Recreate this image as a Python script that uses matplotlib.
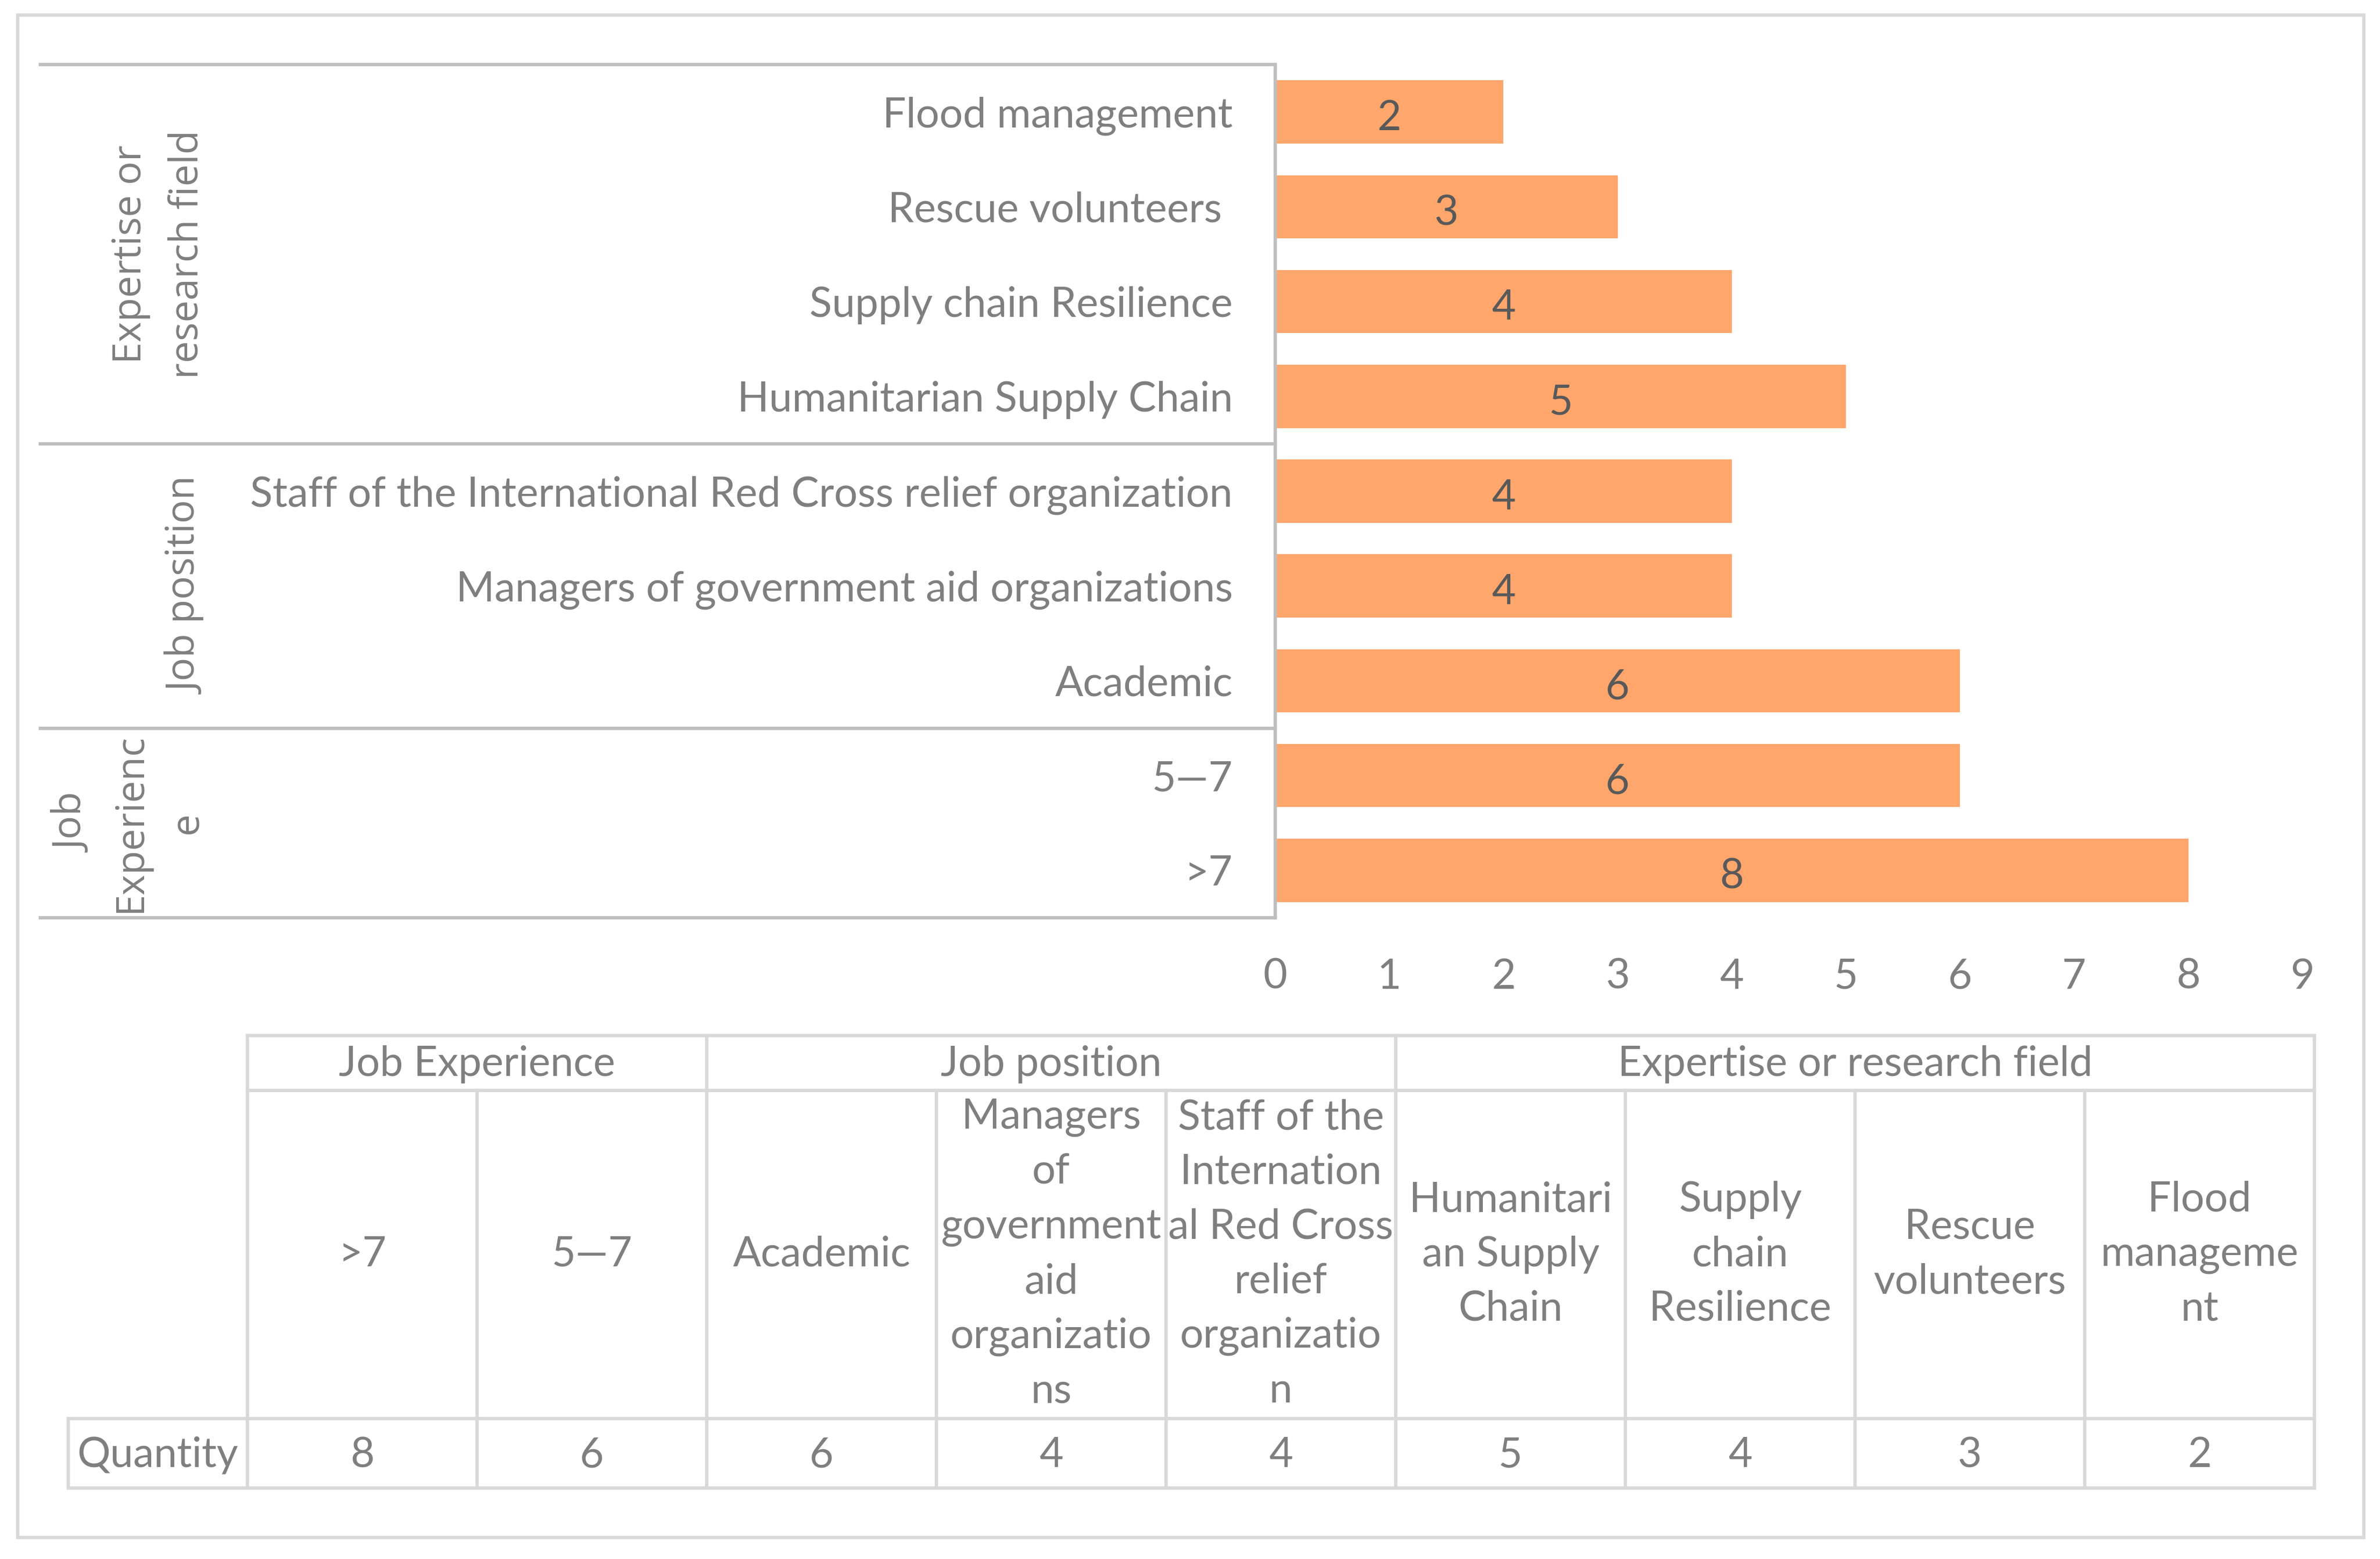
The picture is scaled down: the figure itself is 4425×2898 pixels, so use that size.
import numpy as np
import matplotlib
matplotlib.use("Agg")
import matplotlib.pyplot as plt
from matplotlib import transforms
from matplotlib.patches import Rectangle

plt.rcParams['font.family'] = ['Lato', 'DejaVu Sans']

# data, bottom bar first (same order as the table columns)
categories = [">7", "5—7", "Academic",
              "Managers of government aid organizations",
              "Staff of the International Red Cross relief organization",
              "Humanitarian Supply Chain", "Supply chain Resilience",
              "Rescue volunteers ", "Flood management"]
quantity = [8, 6, 6, 4, 4, 5, 4, 3, 2]
groups = ["Job Experience", "Job position", "Expertise or research field"]
group_sizes = [2, 3, 4]
group_labels_axis = ["Job\nExperienc\ne", "Job position", "Expertise or\nresearch field"]
table_labels = [">7", "5—7", "Academic",
                "Managers\nof\ngovernment\naid\norganizatio\nns",
                "Staff of the\nInternation\nal Red Cross\nrelief\norganizatio\nn",
                "Humanitari\nan Supply\nChain",
                "Supply\nchain\nResilience",
                "Rescue\nvolunteers",
                "Flood\nmanageme\nnt"]
row_name = "Quantity"
xticks = list(range(10))

BAR = '#FFA66C'
GREY = '#7F7F7F'
DARK = '#595959'
AXLINE = '#BFBFBF'
TABLINE = '#D9D9D9'
FS = 18.5

W, H = 4425, 2898
fig = plt.figure(figsize=(W / 300, H / 300), dpi=300)

def fx(px):
    return px / W

def fy(py):
    return 1 - py / H

# outer chart border
fig.add_artist(Rectangle((fx(33), fy(2858)), fx(4395) - fx(33), fy(28) - fy(2858),
                         transform=fig.transFigure, fill=False,
                         edgecolor=TABLINE, lw=1.5))

# bar chart
ax = fig.add_axes([fx(2371), fy(1706), fx(4281) - fx(2371), fy(120) - fy(1706)])
ypos = np.arange(len(categories))
ax.barh(ypos, quantity, height=0.667, color=BAR)
for y, v in zip(ypos, quantity):
    ax.text(v / 2, y - 0.03, str(v), ha='center', va='center_baseline',
            color=DARK, fontsize=FS)

ax.set_xticks(xticks)
ax.set_yticks(ypos, categories)
ax.tick_params(length=0, labelsize=FS, labelcolor=GREY)
ax.tick_params(axis='y', pad=19)
ax.tick_params(axis='x', pad=18)
for s in ['top', 'right', 'bottom']:
    ax.spines[s].set_visible(False)
ax.spines['left'].set_color(AXLINE)
ax.spines['left'].set_linewidth(1.5)

# group brackets and rotated group names
blend = transforms.blended_transform_factory(fig.transFigure, ax.transData)
edges = np.concatenate([[0], np.cumsum(group_sizes)]) - 0.5
for e in edges:
    ax.plot([fx(75), fx(2371)], [e, e], transform=blend, color=AXLINE,
            lw=1.5, clip_on=False, solid_capstyle='projecting')
centers = (edges[:-1] + edges[1:]) / 2
for c, lab in zip(centers, group_labels_axis):
    ax.text(fx(385), c, lab, transform=blend, rotation=90, rotation_mode='anchor',
            ha='center', va='bottom', multialignment='center',
            family=['Open Sans', 'DejaVu Sans'], fontsize=17.5,
            linespacing=1.56, color=GREY)

ax.set_xlim(0, 9)
ax.set_ylim(-0.5, len(categories) - 0.5)

# data table under the chart
n = len(categories)
qw = 0.78
q_top, c_top, h_top = 129, 739, 841
tax = fig.add_axes([fx(127), fy(2766), fx(4303) - fx(127), fy(1925) - fy(2766)])
tax.set_xlim(-qw, n)
tax.set_ylim(0, h_top)
tax.axis('off')

def tline(xs, ys):
    tax.plot(xs, ys, color=TABLINE, lw=1.5, clip_on=False,
             solid_capstyle='projecting')

tline([0, n], [h_top, h_top])
tline([0, n], [c_top, c_top])
tline([-qw, n], [q_top, q_top])
tline([-qw, n], [0, 0])
tline([-qw, -qw], [0, q_top])
gedges = np.concatenate([[0], np.cumsum(group_sizes)])
for i in range(n + 1):
    tline([i, i], [0, h_top if i in gedges else c_top])

for g0, g1, g in zip(gedges[:-1], gedges[1:], groups):
    tax.text((g0 + g1) / 2, (c_top + h_top) / 2 + 5, g, ha='center',
             va='center_baseline', fontsize=FS, color=GREY)
for i, (lab, v) in enumerate(zip(table_labels, quantity)):
    tax.text(i + 0.5, (q_top + c_top) / 2, lab, ha='center', va='center',
             multialignment='center', fontsize=FS, linespacing=1.53, color=GREY)
    tax.text(i + 0.5, q_top / 2 + 3, str(v), ha='center', va='center_baseline',
             fontsize=FS, color=GREY)
tax.text(-qw / 2, q_top / 2 + 3, row_name, ha='center', va='center_baseline',
         fontsize=FS, color=GREY)

fig.savefig('out.png', dpi=300)
